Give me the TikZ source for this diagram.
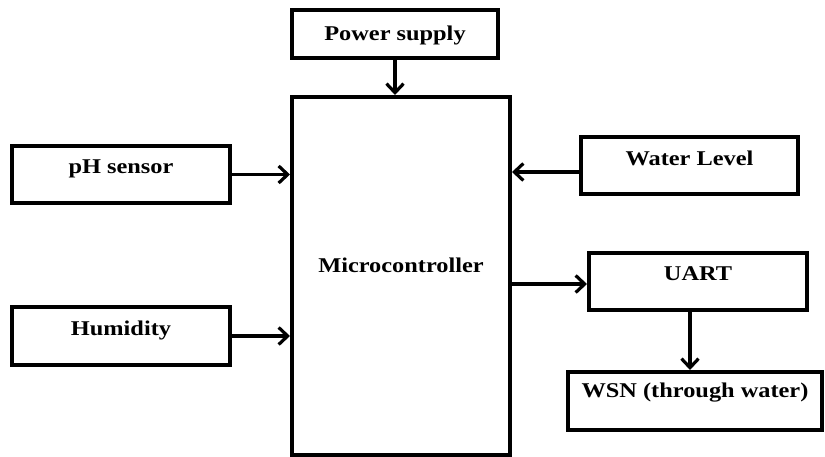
\documentclass[tikz,border=0pt]{standalone}
\usepackage{fontspec}
\setmainfont{Liberation Serif}[FakeStretch=1.16]
\usetikzlibrary{calc,arrows.meta}
\newcommand{\Unit}{1pt}
\newcommand{\Edge}{4pt}
\newcommand{\Wire}{3.2pt}
\definecolor{ink}{HTML}{000000}

\begin{document}
\begin{tikzpicture}[x=\Unit,y=-\Unit, line join=miter,
  blk/.style={draw=ink, line width=\Edge, inner sep=0pt},
  lbl/.style={font=\fontsize{21}{23}\selectfont\bfseries, text=ink, yshift=6pt},
  wire/.style={ink, line width=\Wire, -{Straight Barb[length=9pt,width=17pt,line width=\Wire]}}]

  \useasboundingbox (0,0) rectangle (825,457);

  % ---- the blocks ---------------------------------------------------------
  \node[blk, minimum width=206, minimum height=48, label={[lbl,yshift=-7pt]center:Power supply}] (ps) at (395,34) {};
  \node[blk, minimum width=218, minimum height=358, label={[lbl,yshift=5pt]center:Microcontroller}] (mc) at (401,276) {};
  \node[blk, minimum width=218, minimum height=57, label={[lbl]center:pH sensor}] (ph) at (121,174.5) {};
  \node[blk, minimum width=218, minimum height=58, label={[lbl]center:Humidity}] (hum) at (121,336) {};
  \node[blk, minimum width=217, minimum height=57, label={[lbl,yshift=2pt]center:Water Level}] (wl) at (689.5,166) {};
  \node[blk, minimum width=218, minimum height=57, label={[lbl,yshift=2pt]center:UART}] (uart) at (698,281.5) {};
  \node[blk, minimum width=254, minimum height=58, label={[lbl,yshift=2pt]center:WSN (through water)}] (wsn) at (695,401) {};

  % ---- the connectors -----------------------------------------------------
  \draw[wire] (ps.south) -- (ps.south |- mc.north);
  \draw[wire] (ph.east) -- (ph.east -| mc.west);
  \draw[wire] (hum.east) -- (hum.east -| mc.west);
  \coordinate (wlin) at ($(wl.west)+(0,6)$);
  \draw[wire] (wlin) -- (wlin -| mc.east);
  \coordinate (uartin) at ($(uart.west)+(0,2.5)$);
  \draw[wire] (uartin -| mc.east) -- (uartin);
  \coordinate (uartout) at ($(uart.south)+(-8,0)$);
  \draw[wire] (uartout) -- (uartout |- wsn.north);

\end{tikzpicture}
\end{document}
